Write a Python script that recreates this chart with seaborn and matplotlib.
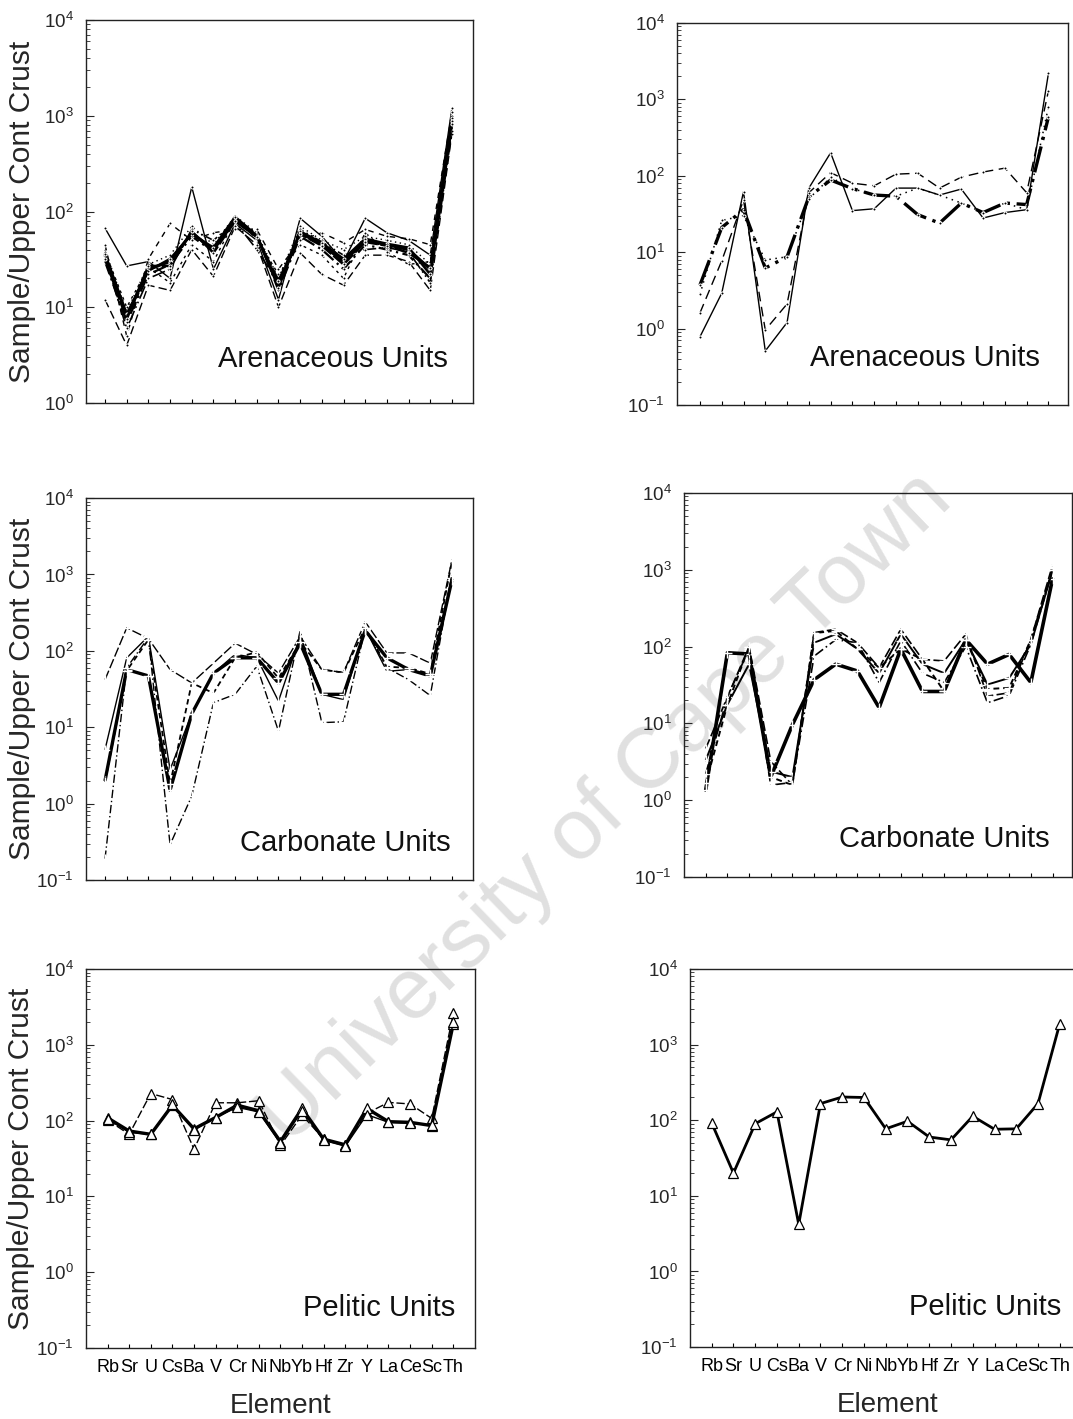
import matplotlib
matplotlib.use("Agg")
import matplotlib.pyplot as plt
import seaborn as sns
import pandas as pd
from matplotlib.ticker import LogLocator, NullFormatter, LogFormatterSciNotation

sns.set_theme(style="white")
plt.rcParams["font.family"] = ["Liberation Sans", "DejaVu Sans"]
plt.rcParams["mathtext.fontset"] = "custom"
plt.rcParams["mathtext.rm"] = "Liberation Sans"
plt.rcParams["mathtext.it"] = "Liberation Sans:italic"
plt.rcParams["mathtext.bf"] = "Liberation Sans:bold"
plt.rcParams["axes.unicode_minus"] = False

elements = ["Rb", "Sr", "U", "Cs", "Ba", "V", "Cr", "Ni", "Nb", "Yb",
            "Hf", "Zr", "Y", "La", "Ce", "Sc", "Th"]

# Arenaceous units, left column
aren_l_1 = [35, 8, 25, 30, 60, 40, 80, 55, 17, 60, 45, 30, 50, 45, 40, 25, 900]
aren_l_2 = [67, 27, 30, 20, 180, 25, 75, 50, 12, 85, 55, 30, 85, 60, 50, 35, 1200]
aren_l_3 = [12, 4.0, 17, 15, 40, 21, 70, 45, 10, 37, 22, 17, 35, 35, 30, 15, 650]
aren_l_4 = [40, 9, 28, 35, 70, 45, 90, 60, 20, 70, 50, 40, 55, 50, 45, 28, 1000]
aren_l_5 = [30, 7, 22, 28, 55, 38, 85, 58, 15, 55, 40, 25, 45, 40, 35, 20, 800]
aren_l_6 = [45, 5, 32, 75, 50, 60, 65, 65, 25, 50, 60, 47, 65, 55, 52, 45, 1100]
aren_l_7 = [33, 6, 20, 25, 65, 50, 78, 40, 18, 65, 48, 35, 40, 42, 38, 18, 700]
aren_l_8 = [38, 10, 26, 18, 45, 30, 82, 52, 22, 45, 35, 20, 60, 38, 28, 30, 950]
aren_l_9 = [36, 8.5, 24, 32, 58, 42, 88, 56, 16, 62, 47, 32, 52, 46, 42, 22, 880]
aren_l_10 = [32, 7.5, 27, 27, 62, 37, 80, 54, 19, 58, 44, 28, 48, 44, 37, 26, 820]

# Arenaceous units, right column
aren_r_1 = [3.7, 21, 36, 6.2, 8.7, 53, 88, 68, 56, 54, 31, 24, 44, 33, 44, 42, 590]
aren_r_2 = [0.78, 2.9, 62, 0.51, 1.2, 69, 200, 35, 37, 69, 69, 56, 67, 28, 33, 36, 2200]
aren_r_3 = [1.6, 7.7, 48, 0.96, 2.1, 60, 110, 80, 74, 105, 108, 69, 96, 112, 126, 60, 1300]
aren_r_4 = [2.8, 26, 30, 7.9, 8.7, 50, 95, 68, 56, 54, 69, 56, 44, 33, 44, 36, 800]

# Carbonate units, left column
carb_l_1 = [42, 200, 145, 57, 38, 69, 126, 90, 51, 155, 57, 52, 240, 94, 94, 69, 1560]
carb_l_2 = [2.0, 57, 47, 1.5, 15, 51, 81, 81, 38, 126, 27, 27, 185, 81, 57, 47, 850]
carb_l_3 = [5.1, 81, 155, 2.8, 15, 51, 90, 81, 22, 155, 27, 23, 195, 54, 57, 47, 950]
carb_l_4 = [0.19, 60, 150, 0.29, 1.26, 21, 27, 63, 8.9, 185, 11.5, 11.8, 195, 60, 42, 26, 1000]
carb_l_5 = [1.9, 55, 140, 1.8, 38, 28, 81, 96, 44, 130, 57, 52, 200, 62, 60, 50, 1500]

# Carbonate units, right column
carb_r_1 = [1.35, 83, 80, 2.0, 9.6, 37, 59, 48, 16, 93, 26, 26, 123, 59, 79, 34, 760]
carb_r_2 = [4.7, 22, 100, 3.2, 1.57, 152, 168, 112, 53, 168, 68, 65, 145, 22.6, 25, 123, 1150]
carb_r_3 = [3.3, 17.5, 59, 2.35, 2.0, 112, 145, 93, 45, 145, 59, 45, 123, 32, 39, 107, 980]
carb_r_4 = [2.2, 22, 93, 1.57, 1.7, 75, 123, 112, 34, 119, 45, 34, 100, 18.5, 23, 107, 980]
carb_r_5 = [1.65, 17.5, 100, 2.0, 1.57, 150, 160, 93, 53, 93, 68, 26, 123, 28, 29, 123, 1000]

# Pelitic units, left column
pel_l_1 = [102, 66, 228, 190, 42, 172, 172, 183, 47, 119, 57, 48, 125, 174, 166, 107, 2600]
pel_l_2 = [109, 73, 66, 160, 78, 110, 160, 135, 53, 145, 57, 48, 145, 97, 95, 86, 1900]
pel_l_3 = [105, 70, 66, 165, 75, 110, 150, 130, 50, 135, 55, 46, 120, 95, 92, 88, 2000]

# Pelitic units, right column
pel_r_1 = [92, 20, 90, 129, 4.2, 166, 203, 200, 77, 97, 60, 55, 113, 76, 77, 166, 1900]

DOT = dict(marker="o", markersize=2.2)
PLUS = dict(marker="+", markersize=7, markeredgewidth=1.0)
TRI = dict(marker="^", markersize=6.5, markerfacecolor="white",
           markeredgecolor="black", markeredgewidth=0.9)

panels = [
    dict(rect=[0.0801, 0.716, 0.3607, 0.2699], ylim=(1, 1e4), xlim=(-0.88, 16.97),
         series=[(aren_l_1, "-", 2.2), (aren_l_2, "-", 1.0), (aren_l_3, (0, (6, 3)), 1.0),
                 (aren_l_4, (0, (1, 2.5)), 1.0), (aren_l_5, (0, (6, 2, 1, 2)), 1.6),
                 (aren_l_6, (0, (4, 4)), 1.0), (aren_l_7, (0, (8, 2, 1, 2, 1, 2)), 1.2),
                 (aren_l_8, (0, (2, 3)), 1.0), (aren_l_9, "-", 1.8), (aren_l_10, (0, (5, 1)), 1.8)],
         mk=DOT, label="Arenaceous Units", lab_xy=(0.935, 0.115), ylabel=True, xlabels=False),
    dict(rect=[0.631, 0.7146, 0.3644, 0.2692], ylim=(0.1, 1e4), xlim=(-1.05, 16.9),
         series=[(aren_r_1, (0, (8, 2, 1, 2)), 2.4), (aren_r_2, "-", 1.0),
                 (aren_r_3, (0, (7, 4)), 1.0), (aren_r_4, (0, (1, 3)), 1.1)],
         mk=DOT, label="Arenaceous Units", lab_xy=(0.928, 0.122), ylabel=False, xlabels=False),
    dict(rect=[0.0801, 0.3798, 0.3607, 0.2692], ylim=(0.1, 1e4), xlim=(-0.88, 16.97),
         series=[(carb_l_1, (0, (7, 2)), 1.0), (carb_l_2, "-", 2.4), (carb_l_3, "-", 1.0),
                 (carb_l_4, (0, (6, 2, 1, 2)), 1.0), (carb_l_5, (0, (3, 2)), 1.3)],
         mk=PLUS, label="Carbonate Units", lab_xy=(0.943, 0.097), ylabel=True, xlabels=False),
    dict(rect=[0.6375, 0.382, 0.3616, 0.2706], ylim=(0.1, 1e4), xlim=(-1.0, 16.9),
         series=[(carb_r_1, "-", 2.6), (carb_r_2, (0, (6, 2)), 1.2), (carb_r_3, "-", 1.4),
                 (carb_r_4, (0, (6, 2, 1, 2)), 1.2), (carb_r_5, (0, (3, 2)), 1.4)],
         mk=PLUS, label="Carbonate Units", lab_xy=(0.943, 0.10), ylabel=False, xlabels=False),
    dict(rect=[0.0801, 0.050, 0.3625, 0.2671], ylim=(0.1, 1e4), xlim=(-1.0, 17.0),
         series=[(pel_l_1, (0, (6, 2)), 1.0), (pel_l_2, "-", 2.4), (pel_l_3, "-", 1.0)],
         mk=TRI, label="Pelitic Units", lab_xy=(0.949, 0.105), ylabel=True, xlabels=True),
    dict(rect=[0.643, 0.0507, 0.368, 0.2664], ylim=(0.1, 1e4), xlim=(-1.0, 17.15),
         series=[(pel_r_1, "-", 2.0)],
         mk=TRI, label="Pelitic Units", lab_xy=(0.94, 0.106), ylabel=False, xlabels=True),
]

fig = plt.figure(figsize=(10.73, 14.19), dpi=100)
fig.patch.set_facecolor("white")

positions = list(range(len(elements)))

for p in panels:
    ax = fig.add_axes(p["rect"])
    ax.set_facecolor("none")
    for vals, ls, lw in p["series"]:
        df = pd.DataFrame({"pos": positions, "value": vals})
        sns.lineplot(data=df, x="pos", y="value", ax=ax, color="black",
                     linestyle=ls, linewidth=lw, sort=False, estimator=None, **p["mk"])
    ax.set_yscale("log")
    ax.set_ylim(*p["ylim"])
    ax.set_xlim(*p["xlim"])
    ax.yaxis.set_major_locator(LogLocator(base=10, numticks=10))
    ax.yaxis.set_minor_locator(LogLocator(base=10, subs=range(2, 10), numticks=100))
    ax.yaxis.set_major_formatter(LogFormatterSciNotation())
    ax.yaxis.set_minor_formatter(NullFormatter())
    ax.set_xticks(positions)
    ax.set_xticks([4, 9, 14], minor=True)
    if p["xlabels"]:
        ax.set_xticklabels(elements, fontsize=13)
        ax.set_xlabel("Element", fontsize=20, labelpad=12)
    else:
        ax.set_xticklabels([])
        ax.set_xlabel("")
    if p["ylabel"]:
        ax.set_ylabel("Sample/Upper Cont Crust", fontsize=21.5)
        ax.yaxis.set_label_coords(-0.13, 0.5)
    else:
        ax.set_ylabel("")
    ax.tick_params(axis="x", which="major", direction="in", length=3, width=0.8,
                   pad=8, colors="black", bottom=True, top=False)
    ax.tick_params(axis="x", which="minor", direction="in", length=6, width=0.8,
                   bottom=True, top=False)
    ax.tick_params(axis="y", which="major", direction="in", length=6, width=0.8,
                   labelsize=13.5, pad=9, left=True, right=False)
    ax.tick_params(axis="y", which="minor", direction="in", length=3, width=0.6,
                   left=True, right=False)
    for sp in ax.spines.values():
        sp.set_visible(True)
        sp.set_color("#222222")
        sp.set_linewidth(1.0)
    ax.text(p["lab_xy"][0], p["lab_xy"][1], p["label"], transform=ax.transAxes,
            ha="right", va="center", fontsize=21, color="#111111")

fig.text(0.565, 0.43, "University of Cape Town", rotation=44, rotation_mode="anchor",
         ha="center", va="center", fontsize=62, color="#e0e0e0", zorder=-1)

fig.savefig("out.png", dpi=100, facecolor="white")
